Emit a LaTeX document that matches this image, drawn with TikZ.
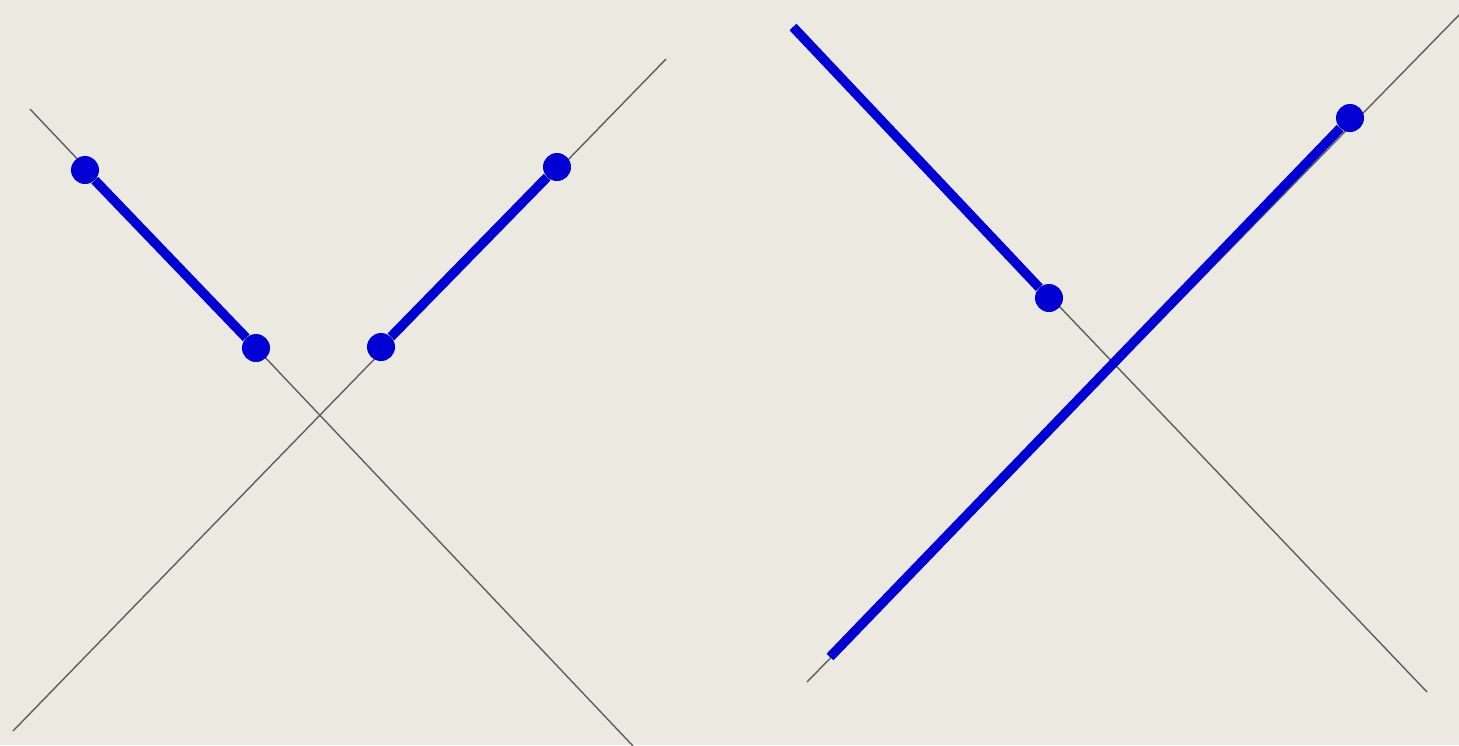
\documentclass[tikz,border=0pt]{standalone}
\usepackage{tikz}
\usetikzlibrary{positioning}
\definecolor{cBack}{RGB}{236,233,224}
\definecolor{cSeg} {RGB}{0,0,212}
\definecolor{cAxis}{RGB}{95,95,90}
\tikzset{
  axisline/.style={draw=cAxis,line width=1.4pt},
  seg/.style={draw=cSeg,line width=9.5pt},
  knot/.style={circle,fill=cSeg,inner sep=0pt,minimum size=28pt},
}
\begin{document}
\begin{tikzpicture}[x=1pt,y=-1pt]
  \fill[cBack] (0,0) rectangle (1459,745);
  \useasboundingbox (0,0) rectangle (1459,745);
  % left panel: two separate pieces
  \coordinate (lA1) at (30,109);  \coordinate (lA2) at (633,746);
  \coordinate (lB1) at (13,731);  \coordinate (lB2) at (666,59);
  \draw[axisline] (lA1)--(lA2);
  \draw[axisline] (lB1)--(lB2);
  \node[knot] (p1) at (85,170){};
  \node[knot] (p2) at (256,348){};
  \node[knot] (q1) at (381,347){};
  \node[knot] (q2) at (557,167){};
  \draw[seg] (p1)--(p2);
  \draw[seg] (q1)--(q2);
  % right panel: crossing pieces
  \coordinate (rA1) at (793,27);  \coordinate (rA2) at (1427,692);
  \coordinate (rB1) at (807,682); \coordinate (rB2) at (1460,14);
  \coordinate (rC) at (830,657);
  \draw[axisline] (rA1)--(rA2);
  \draw[axisline] (rB1)--(rB2);
  \node[knot] (s1) at (1049,298){};
  \node[knot] (t1) at (1350,118){};
  \draw[seg] (rA1)--(s1);
  \draw[seg] (rC)--(t1);
\end{tikzpicture}
\end{document}
